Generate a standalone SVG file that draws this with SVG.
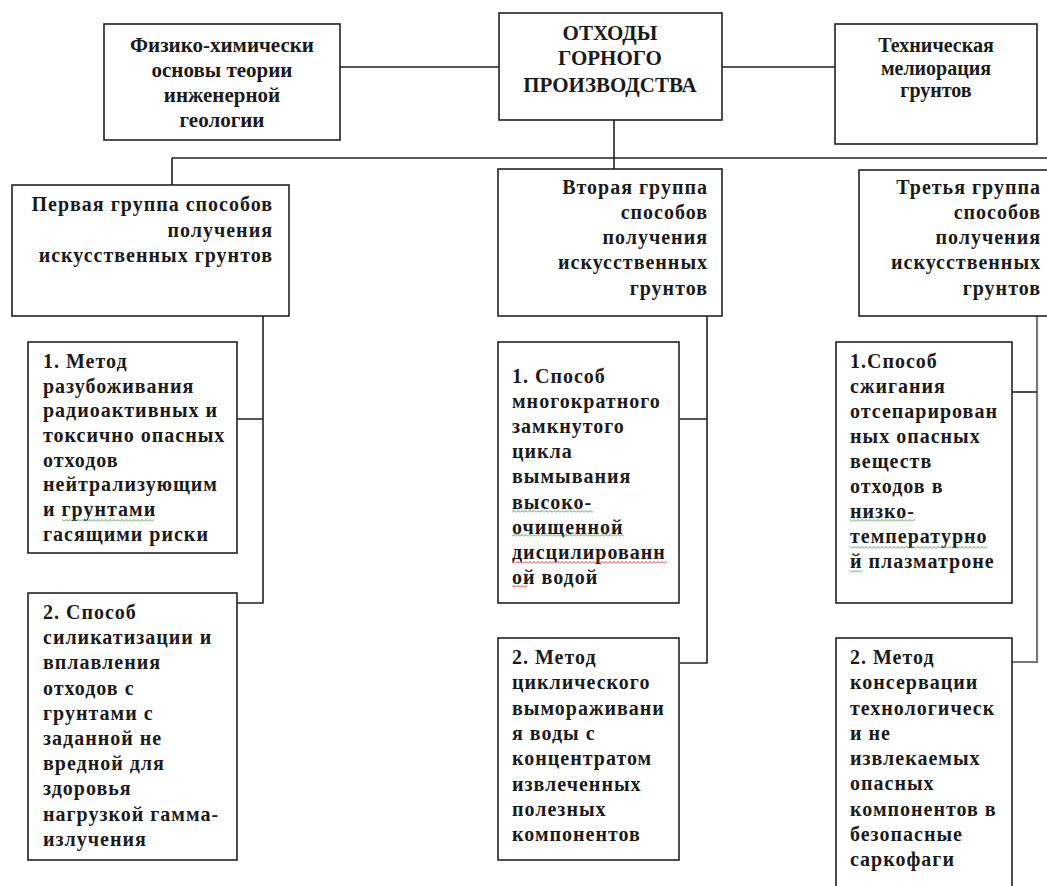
<svg xmlns="http://www.w3.org/2000/svg" width="1047" height="886" viewBox="0 0 1047 886">
<style>
.box{fill:#fff;stroke:#222;stroke-width:1.6}
.ln{fill:none;stroke:#222;stroke-width:1.6}
.t{font-family:"Liberation Serif","Times New Roman",serif;font-weight:bold;fill:#1a1a1a}
.top{font-size:21px}
.sm{font-size:20px}
.b{font-size:20px;letter-spacing:1px}
.c{text-anchor:middle}
.r{text-anchor:end}
</style>
<defs>
<pattern id="wg" width="4" height="3" patternUnits="userSpaceOnUse"><path d="M0 2.5 L2 0.5 L4 2.5" fill="none" stroke="#3c9c3c" stroke-width="0.9"/></pattern>
<pattern id="wr" width="4" height="3" patternUnits="userSpaceOnUse"><path d="M0 2.5 L2 0.5 L4 2.5" fill="none" stroke="#d42424" stroke-width="0.9"/></pattern>
</defs>
<rect width="1047" height="886" fill="#fff"/>
<g id="connectors">
<path class="ln" d="M340 67 H499 M722 67 H835"/>
<path class="ln" d="M614 120 V169 M172 158 H1047 M172 158 V185"/>
<path class="ln" d="M263 316 V603 H237 M263 419 H237"/>
<path class="ln" d="M707 316 V663 H680 M707 419 H680"/>
<path fill="none" stroke="#777" stroke-width="2.2" d="M1037 316 V662 H1012"/>
<path fill="none" stroke="#222" stroke-width="1.6" d="M1037 392 H1012"/>
</g>
<g id="n-phys">
<rect class="box" x="104" y="24" width="236" height="116"/>
<text class="t top c"><tspan x="222" y="52">Физико-химически</tspan><tspan x="222" y="77">основы теории</tspan><tspan x="222" y="102">инженерной</tspan><tspan x="222" y="127">геологии</tspan></text>
</g>
<g id="n-main">
<rect class="box" x="499" y="13" width="223" height="107"/>
<text class="t top c"><tspan x="610" y="40">ОТХОДЫ</tspan><tspan x="610" y="65">ГОРНОГО</tspan><tspan x="610" y="92">ПРОИЗВОДСТВА</tspan></text>
</g>
<g id="n-tech">
<rect class="box" x="835" y="24" width="202" height="120"/>
<text class="t sm c"><tspan x="936" y="52">Техническая</tspan><tspan x="936" y="74.5">мелиорация</tspan><tspan x="936" y="97">грунтов</tspan></text>
</g>
<g id="n-g1">
<rect class="box" x="12" y="185" width="277" height="131"/>
<text class="t b r"><tspan x="273" y="211">Первая группа способов</tspan><tspan x="273" y="237">получения</tspan><tspan x="273" y="262">искусственных грунтов</tspan></text>
</g>
<g id="n-g2">
<rect class="box" x="498" y="169" width="224" height="147"/>
<text class="t b r"><tspan x="708" y="194">Вторая группа</tspan><tspan x="708" y="219">способов</tspan><tspan x="708" y="244">получения</tspan><tspan x="708" y="269">искусственных</tspan><tspan x="708" y="295">грунтов</tspan></text>
</g>
<g id="n-g3">
<rect class="box" x="859" y="170" width="200" height="146"/>
<text class="t b r"><tspan x="1041" y="194">Третья группа</tspan><tspan x="1041" y="219">способов</tspan><tspan x="1041" y="244">получения</tspan><tspan x="1041" y="269">искусственных</tspan><tspan x="1041" y="295">грунтов</tspan></text>
</g>
<g id="n-g1m1">
<rect class="box" x="28" y="342" width="209" height="211"/>
<text class="t b"><tspan x="43" y="368">1. Метод</tspan><tspan x="43" y="393">разубоживания</tspan><tspan x="43" y="417">радиоактивных и</tspan><tspan x="43" y="442">токсично опасных</tspan><tspan x="43" y="467">отходов</tspan><tspan x="43" y="491">нейтрализующим</tspan><tspan x="43" y="516">и грунтами</tspan><tspan x="43" y="541">гасящими риски</tspan></text>
<rect x="62" y="519" width="92" height="3" fill="url(#wg)"/>
</g>
<g id="n-g1m2">
<rect class="box" x="28" y="593" width="209" height="267"/>
<text class="t b"><tspan x="43" y="619">2. Способ</tspan><tspan x="43" y="644">силикатизации и</tspan><tspan x="43" y="669">вплавления</tspan><tspan x="43" y="695">отходов с</tspan><tspan x="43" y="720">грунтами с</tspan><tspan x="43" y="745">заданной не</tspan><tspan x="43" y="770">вредной для</tspan><tspan x="43" y="795">здоровья</tspan><tspan x="43" y="821">нагрузкой гамма-</tspan><tspan x="43" y="846">излучения</tspan></text>
</g>
<g id="n-g2m1">
<rect class="box" x="498" y="342" width="181" height="261"/>
<text class="t b"><tspan x="512" y="383">1. Способ</tspan><tspan x="512" y="408">многократного</tspan><tspan x="512" y="433">замкнутого</tspan><tspan x="512" y="458">цикла</tspan><tspan x="512" y="483">вымывания</tspan><tspan x="512" y="509">высоко-</tspan><tspan x="512" y="534">очищенной</tspan><tspan x="512" y="559">дисцилированн</tspan><tspan x="512" y="584">ой водой</tspan></text>
<rect x="512" y="510" width="81" height="3" fill="url(#wg)"/>
<rect x="512" y="534" width="112" height="3" fill="url(#wg)"/>
<rect x="512" y="561" width="155" height="3" fill="url(#wr)"/>
<rect x="512" y="585" width="15" height="3" fill="url(#wr)"/>
</g>
<g id="n-g2m2">
<rect class="box" x="498" y="638" width="181" height="222"/>
<text class="t b"><tspan x="512" y="664">2. Метод</tspan><tspan x="512" y="689">циклического</tspan><tspan x="512" y="715">вымораживани</tspan><tspan x="512" y="740">я воды с</tspan><tspan x="512" y="765">концентратом</tspan><tspan x="512" y="791">извлеченных</tspan><tspan x="512" y="816">полезных</tspan><tspan x="512" y="841">компонентов</tspan></text>
</g>
<g id="n-g3m1">
<rect class="box" x="836" y="342" width="176" height="261"/>
<text class="t b"><tspan x="850" y="368">1.Способ</tspan><tspan x="850" y="393">сжигания</tspan><tspan x="850" y="418">отсепарирован</tspan><tspan x="850" y="443">ных опасных</tspan><tspan x="850" y="468">веществ</tspan><tspan x="850" y="493">отходов в</tspan><tspan x="850" y="518">низко-</tspan><tspan x="850" y="543">температурно</tspan><tspan x="850" y="568">й плазматроне</tspan></text>
<rect x="850" y="519" width="65" height="3" fill="url(#wg)"/>
<rect x="850" y="546" width="137" height="3" fill="url(#wg)"/>
<rect x="850" y="570" width="12" height="3" fill="url(#wg)"/>
</g>
<g id="n-g3m2">
<rect class="box" x="836" y="638" width="176" height="260"/>
<text class="t b"><tspan x="850" y="664">2. Метод</tspan><tspan x="850" y="689">консервации</tspan><tspan x="850" y="715">технологическ</tspan><tspan x="850" y="740">и не</tspan><tspan x="850" y="765">извлекаемых</tspan><tspan x="850" y="790">опасных</tspan><tspan x="850" y="816">компонентов в</tspan><tspan x="850" y="841">безопасные</tspan><tspan x="850" y="866">саркофаги</tspan></text>
</g>
</svg>
